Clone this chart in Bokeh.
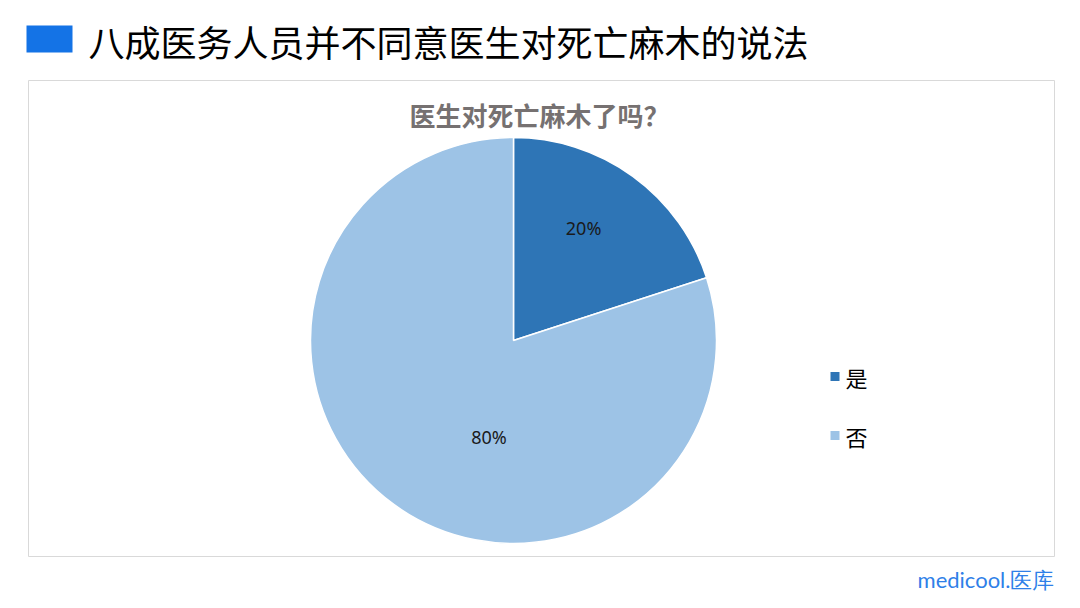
import math
from bokeh.plotting import figure
from bokeh.models import Range1d, ColumnDataSource
from bokeh.core.properties import value
from bokeh.embed import file_html
from bokeh.resources import INLINE

# ---- data ----
categories = ["是", "否"]
percent_values = [20, 80]
slice_colors = ["#2E75B6", "#9DC3E6"]
main_title = "八成医务人员并不同意医生对死亡麻木的说法"
chart_title = "医生对死亡麻木了吗？"
watermark = "medicool.医库"

CJK = "Noto Sans CJK SC"
W, H = 1064, 592

# data coordinates equal screenshot pixels (y flipped)
p = figure(width=W, height=H, output_backend="svg", toolbar_location=None,
           x_range=Range1d(0, W), y_range=Range1d(608 - H, 608),
           min_border=0, background_fill_color="white", border_fill_color="white")
p.axis.visible = False
p.grid.visible = False
p.outline_line_color = None

def Y(img_y):
    return 608 - img_y

# title block
p.quad(left=[26], right=[72], bottom=[Y(52)], top=[Y(25)], fill_color="#1473E6", line_color=None)
p.text(x=[88], y=[Y(40)], text=[main_title], text_font=value(CJK), text_font_size="36px",
       text_color="#000000", text_baseline="middle", text_align="left")

# chart frame
p.quad(left=[28], right=[1054], bottom=[Y(556)], top=[Y(80)], fill_color="white",
       line_color="#D9D9D9", line_width=1)

# chart title
p.text(x=[539], y=[Y(114)], text=[chart_title], text_font=value(CJK), text_font_size="26px",
       text_font_style="bold", text_color="#767171", text_baseline="middle", text_align="center")

# pie
cx, cy, R = 513, Y(340), 203
total = sum(percent_values)
starts, ends, mids = [], [], []
acc = 0
for v in percent_values:
    s = math.pi / 2 - 2 * math.pi * acc / total
    e = math.pi / 2 - 2 * math.pi * (acc + v) / total
    starts.append(s); ends.append(e); mids.append((s + e) / 2)
    acc += v
src = ColumnDataSource(dict(start=starts, end=ends, color=slice_colors))
p.wedge(x=cx, y=cy, radius=R, start_angle="start", end_angle="end", direction="clock",
        fill_color="color", line_color="white", line_width=1.5, source=src)

# data labels (Excel "best fit"-like placement)
label_r = [0.655, 0.49]
label_shift = [0.073, 0.38]
lx = [cx + R * r * math.cos(m + d) for r, m, d in zip(label_r, mids, label_shift)]
ly = [cy + R * r * math.sin(m + d) for r, m, d in zip(label_r, mids, label_shift)]
p.text(x=lx, y=ly, text=[f"{v}%" for v in percent_values], text_font=value("Noto Sans"),
       text_font_size="18px", text_color="#1A1A1A", text_baseline="middle", text_align="center")

# legend
leg_y = [Y(376), Y(435)]
p.scatter(x=[834.5] * len(categories), y=leg_y, marker="square", size=9,
          fill_color=slice_colors, line_color=None)
p.text(x=[845] * len(categories), y=leg_y, text=categories, text_font=value(CJK),
       text_font_size="22px", text_color="#000000", text_baseline="middle", text_align="left")

# watermark
p.text(x=[1054], y=[Y(579)], text=[watermark], text_font=value("Lato"), text_font_size="22px",
       text_color="#2F7FE8", text_baseline="middle", text_align="right")

open("out.html", "w").write(file_html(p, INLINE))
